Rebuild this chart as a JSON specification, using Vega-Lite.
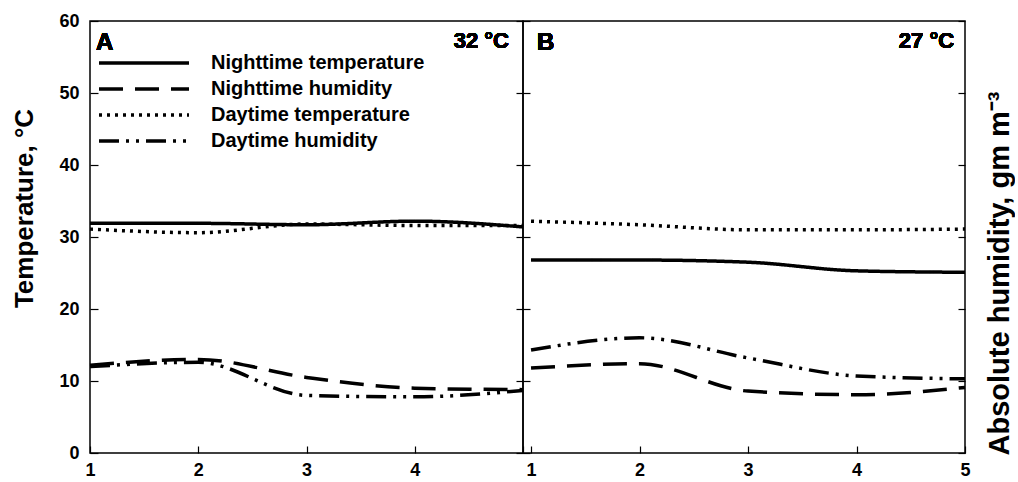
{
  "$schema": "https://vega.github.io/schema/vega-lite/v6.json",
  "padding": {"left": 10, "top": 11, "right": 0, "bottom": 0},
  "background": "white",
  "spacing": 0,
  "bounds": "flush",
  "datasets": {
    "d": [
      {"panel": "A", "week": 1, "series": "Nighttime temperature", "value": 31.9},
      {"panel": "A", "week": 2, "series": "Nighttime temperature", "value": 31.9},
      {"panel": "A", "week": 3, "series": "Nighttime temperature", "value": 31.7},
      {"panel": "A", "week": 4, "series": "Nighttime temperature", "value": 32.2},
      {"panel": "A", "week": 5, "series": "Nighttime temperature", "value": 31.4},
      {"panel": "A", "week": 1, "series": "Nighttime humidity", "value": 12.2},
      {"panel": "A", "week": 2, "series": "Nighttime humidity", "value": 13.0},
      {"panel": "A", "week": 3, "series": "Nighttime humidity", "value": 10.5},
      {"panel": "A", "week": 4, "series": "Nighttime humidity", "value": 9.0},
      {"panel": "A", "week": 5, "series": "Nighttime humidity", "value": 8.8},
      {"panel": "A", "week": 1, "series": "Daytime temperature", "value": 31.1},
      {"panel": "A", "week": 2, "series": "Daytime temperature", "value": 30.6},
      {"panel": "A", "week": 3, "series": "Daytime temperature", "value": 31.8},
      {"panel": "A", "week": 4, "series": "Daytime temperature", "value": 31.6},
      {"panel": "A", "week": 5, "series": "Daytime temperature", "value": 31.6},
      {"panel": "A", "week": 1, "series": "Daytime humidity", "value": 12.0},
      {"panel": "A", "week": 2, "series": "Daytime humidity", "value": 12.6},
      {"panel": "A", "week": 3, "series": "Daytime humidity", "value": 8.0},
      {"panel": "A", "week": 4, "series": "Daytime humidity", "value": 7.8},
      {"panel": "A", "week": 5, "series": "Daytime humidity", "value": 8.7},
      {"panel": "B", "week": 1, "series": "Nighttime temperature", "value": 26.8},
      {"panel": "B", "week": 2, "series": "Nighttime temperature", "value": 26.8},
      {"panel": "B", "week": 3, "series": "Nighttime temperature", "value": 26.5},
      {"panel": "B", "week": 4, "series": "Nighttime temperature", "value": 25.3},
      {"panel": "B", "week": 5, "series": "Nighttime temperature", "value": 25.1},
      {"panel": "B", "week": 1, "series": "Nighttime humidity", "value": 11.8},
      {"panel": "B", "week": 2, "series": "Nighttime humidity", "value": 12.4},
      {"panel": "B", "week": 3, "series": "Nighttime humidity", "value": 8.6},
      {"panel": "B", "week": 4, "series": "Nighttime humidity", "value": 8.1},
      {"panel": "B", "week": 5, "series": "Nighttime humidity", "value": 9.1},
      {"panel": "B", "week": 1, "series": "Daytime temperature", "value": 32.2},
      {"panel": "B", "week": 2, "series": "Daytime temperature", "value": 31.7},
      {"panel": "B", "week": 3, "series": "Daytime temperature", "value": 31.0},
      {"panel": "B", "week": 4, "series": "Daytime temperature", "value": 31.0},
      {"panel": "B", "week": 5, "series": "Daytime temperature", "value": 31.1},
      {"panel": "B", "week": 1, "series": "Daytime humidity", "value": 14.3},
      {"panel": "B", "week": 2, "series": "Daytime humidity", "value": 16.0},
      {"panel": "B", "week": 3, "series": "Daytime humidity", "value": 13.2},
      {"panel": "B", "week": 4, "series": "Daytime humidity", "value": 10.7},
      {"panel": "B", "week": 5, "series": "Daytime humidity", "value": 10.3}
    ]
  },
  "config": {
    "font": "Liberation Sans",
    "view": {"stroke": "black", "strokeWidth": 1.5},
    "axis": {
      "grid": false, "domain": false, "tickColor": "black", "tickWidth": 1.2,
      "labelColor": "black", "labelFont": "Liberation Sans", "labelFontWeight": "bold", "labelFontSize": 18,
      "titleFont": "Liberation Sans", "titleFontWeight": "bold", "titleFontSize": 26, "titleColor": "black"
    },
    "legend": {
      "orient": "none", "legendX": 7, "legendY": 29,
      "symbolType": "stroke", "symbolSize": 8100, "symbolStrokeWidth": 3.5, "symbolStrokeColor": "black",
      "labelFont": "Liberation Sans", "labelFontWeight": "bold", "labelFontSize": 20, "labelColor": "black",
      "labelOffset": 20, "labelLimit": 0, "clipHeight": 26, "rowPadding": 0
    },
    "text": {"font": "Liberation Sans", "fontWeight": "bold", "color": "black"}
  },
  "resolve": {"scale": {"strokeDash": "shared"}},
  "hconcat": [
    {
      "width": 433, "height": 432,
      "data": {"name": "d"},
      "transform": [{"filter": "datum.panel == 'A'"}],
      "layer": [
        {
          "mark": {"type": "line", "interpolate": "monotone", "strokeWidth": 3.5, "color": "black"},
          "encoding": {
            "x": {"field": "week", "type": "quantitative", "scale": {"domain": [1, 5], "nice": false, "zero": false},
                  "axis": {"orient": "bottom", "values": [1, 2, 3, 4, 5], "format": "d", "tickSize": -7, "labelFlush": false, "labelPadding": 15, "labelExpr": "datum.value == 5 ? '' : datum.label", "title": null}},
            "y": {"field": "value", "type": "quantitative", "scale": {"domain": [0, 60], "nice": false},
                  "axis": {"orient": "left", "values": [0, 10, 20, 30, 40, 50, 60], "tickSize": -8, "labelPadding": 19,
                           "title": "Temperature, °C", "titleX": -58, "titleY": 187, "titleAngle": 270, "titleAlign": "center", "titleBaseline": "alphabetic"}},
            "strokeDash": {"field": "series", "type": "nominal",
                  "scale": {"domain": ["Nighttime temperature", "Nighttime humidity", "Daytime temperature", "Daytime humidity"],
                            "range": [[1, 0], [24, 12], [3, 5], [20, 7, 3, 7, 3, 7]]},
                  "legend": {"title": null}}
          }
        },
        {
          "mark": {"type": "text", "align": "left", "baseline": "middle", "fontSize": 24},
          "encoding": {
            "x": {"datum": 1.055, "type": "quantitative"},
            "y": {"datum": 57, "type": "quantitative",
                  "axis": {"orient": "right", "values": [0, 10, 20, 30, 40, 50, 60], "tickSize": -7, "labels": false, "title": null}},
            "text": {"value": "A"}
          }
        },
        {
          "mark": {"type": "text", "align": "right", "baseline": "middle", "fontSize": 22},
          "encoding": {
            "x": {"datum": 4.87, "type": "quantitative"},
            "y": {"datum": 57.2, "type": "quantitative", "axis": null},
            "text": {"value": "32 °C"}
          }
        }
      ],
      "resolve": {"axis": {"y": "independent"}}
    },
    {
      "width": 442, "height": 432,
      "data": {"name": "d"},
      "transform": [{"filter": "datum.panel == 'B'"}],
      "layer": [
        {
          "mark": {"type": "line", "interpolate": "monotone", "strokeWidth": 3.5, "color": "black"},
          "encoding": {
            "x": {"field": "week", "type": "quantitative", "scale": {"domain": [0.926, 5], "nice": false, "zero": false},
                  "axis": {"orient": "bottom", "values": [1, 2, 3, 4, 5], "format": "d", "tickSize": -7, "labelFlush": false, "labelPadding": 15, "title": null}},
            "y": {"field": "value", "type": "quantitative", "scale": {"domain": [0, 60], "nice": false},
                  "axis": {"orient": "right", "values": [0, 10, 20, 30, 40, 50, 60], "tickSize": -7, "labels": false,
                           "title": "Absolute humidity, gm m⁻³", "titleFontSize": 29, "titleX": 43, "titleY": 252, "titleAngle": 270, "titleAlign": "center", "titleBaseline": "alphabetic"}},
            "strokeDash": {"field": "series", "type": "nominal",
                  "scale": {"domain": ["Nighttime temperature", "Nighttime humidity", "Daytime temperature", "Daytime humidity"],
                            "range": [[1, 0], [24, 12], [3, 5], [20, 7, 3, 7, 3, 7]]},
                  "legend": {"title": null}}
          }
        },
        {
          "mark": {"type": "text", "align": "left", "baseline": "middle", "fontSize": 24},
          "encoding": {
            "x": {"datum": 1.055, "type": "quantitative"},
            "y": {"datum": 57, "type": "quantitative",
                  "axis": {"orient": "left", "values": [0, 10, 20, 30, 40, 50, 60], "tickSize": -7, "labels": false, "title": null}},
            "text": {"value": "B"}
          }
        },
        {
          "mark": {"type": "text", "align": "right", "baseline": "middle", "fontSize": 22},
          "encoding": {
            "x": {"datum": 4.9, "type": "quantitative"},
            "y": {"datum": 57.2, "type": "quantitative", "axis": null},
            "text": {"value": "27 °C"}
          }
        }
      ],
      "resolve": {"axis": {"y": "independent"}}
    }
  ]
}
